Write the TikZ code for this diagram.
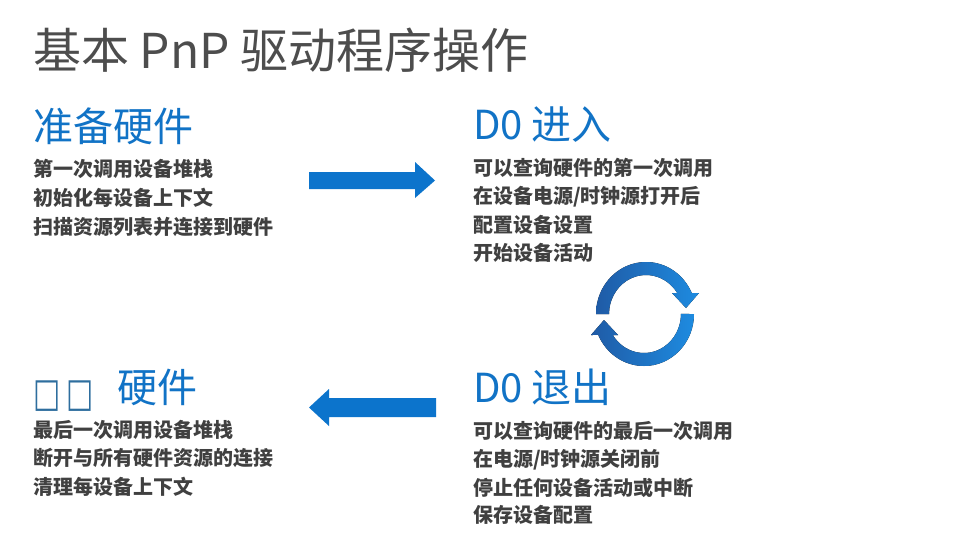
\documentclass[tikz,border=0pt]{standalone}
\usepackage{fontspec}
\setmainfont{Noto Sans CJK SC}
\newfontfamily\symfont{DejaVu Sans}
\definecolor{titlegray}{HTML}{4D4D4D}
\definecolor{bodygray}{HTML}{404040}
\definecolor{headblue}{HTML}{1173C6}
\definecolor{arrowblue}{HTML}{0C74CC}
\definecolor{cycdark}{HTML}{1F5BA6}
\definecolor{cyclight}{HTML}{1E8BE0}
\definecolor{tofu}{HTML}{2E6E9E}
\tikzset{
  titletext/.style={anchor=west, inner sep=0pt, text=titlegray, font=\fontsize{48}{52}\selectfont},
  headtext/.style={anchor=west, inner sep=0pt, text=headblue, font=\fontsize{40}{44}\selectfont},
  bodytext/.style={anchor=west, inner sep=0pt, text=bodygray, font=\bfseries\fontsize{20}{24}\selectfont},
  tofutext/.style={anchor=base west, inner sep=0pt, text=tofu, font=\symfont\fontsize{40}{44}\selectfont},
  blockarrow/.style={fill=arrowblue, draw=none},
  cycband/.style={left color=cycdark, right color=cyclight, draw=none}
}
\begin{document}
\begin{tikzpicture}[x=1pt,y=-1pt]
\useasboundingbox (0,0) rectangle (979,551);
\fill[white] (0,0) rectangle (979,551);

% title
\node[titletext] (title) at (33,50) {基本 PnP 驱动程序操作};

% top-left
\node[headtext] (prep) at (33,126) {准备硬件};
\node[bodytext] (p1) at (33,169) {第一次调用设备堆栈};
\node[bodytext] (p2) at (33,198) {初始化每设备上下文};
\node[bodytext] (p3) at (33,227) {扫描资源列表并连接到硬件};

% top-right
\node[headtext] (d0in) at (473,125) {D0 进入};
\node[bodytext] (i1) at (473,168) {可以查询硬件的第一次调用};
\node[bodytext] (i2) at (473,197) {在设备电源/时钟源打开后};
\node[bodytext] (i3) at (473,225) {配置设备设置};
\node[bodytext] (i4) at (473,253) {开始设备活动};

% bottom-left
\node[tofutext] (tofu) at (33,406) {\scalebox{0.72}[1]{□\kern9pt□}};
\node[headtext] (hw) at (117,387) {硬件};
\node[bodytext] (r1) at (33,430) {最后一次调用设备堆栈};
\node[bodytext] (r2) at (33,458) {断开与所有硬件资源的连接};
\node[bodytext] (r3) at (33,487) {清理每设备上下文};

% bottom-right
\node[headtext] (d0out) at (473,387) {D0 退出};
\node[bodytext] (o1) at (473,431) {可以查询硬件的最后一次调用};
\node[bodytext] (o2) at (473,460) {在电源/时钟源关闭前};
\node[bodytext] (o3) at (473,488) {停止任何设备活动或中断};
\node[bodytext] (o4) at (473,515) {保存设备配置};

% block arrows
\fill[blockarrow] (309,172) -- (415,172) -- (415,162) -- (435,180.5) -- (415,198) -- (415,189) -- (309,189) -- cycle;
\fill[blockarrow] (309,407.5) -- (329,389) -- (329,398) -- (436,398) -- (436,417) -- (329,417) -- (329,426) -- cycle;

% cycle arrows
\coordinate (cc) at (645,314);
\fill[cycband] (596,314) arc[start angle=180, end angle=336.2, x radius=50, y radius=52]
  -- (699,293) -- (686,308) -- (672,293) -- (677.2,293)
  arc[start angle=327.4, end angle=180, x radius=37, y radius=39] -- cycle;
\begin{scope}[rotate around={180:(cc)}]
\fill[cycband] (596,314) arc[start angle=180, end angle=336.2, x radius=50, y radius=52]
  -- (699,293) -- (686,308) -- (672,293) -- (677.2,293)
  arc[start angle=327.4, end angle=180, x radius=37, y radius=39] -- cycle;
\end{scope}
\end{tikzpicture}
\end{document}
